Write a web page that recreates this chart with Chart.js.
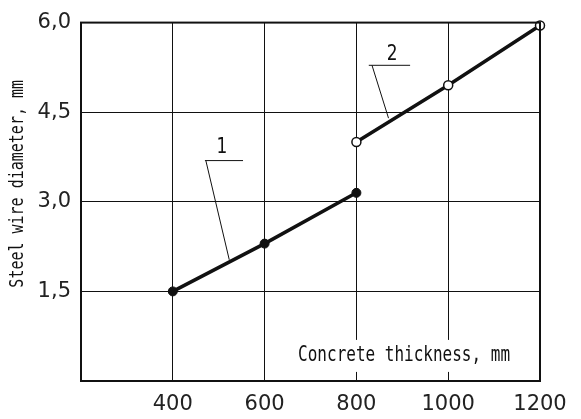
<!DOCTYPE html>
<html>
<head>
<meta charset="utf-8">
<script src="https://cdn.jsdelivr.net/npm/chart.js@4/dist/chart.umd.min.js"></script>
<style>
html,body{margin:0;padding:0;background:#fff;}
#wrap{width:581px;height:419px;position:relative;}
</style>
</head>
<body>
<div id="wrap"><canvas id="c" width="581" height="419"></canvas></div>
<script>
// Data
const thickness1 = [400, 600, 800];
const diameter1 = [1.5, 2.3, 3.15];
const thickness2 = [800, 1000, 1200];
const diameter2 = [4.0, 4.95, 5.95];
const xTickValues = [400, 600, 800, 1000, 1200];
const yTickValues = [1.5, 3.0, 4.5, 6.0];
const xTitle = 'Concrete thickness, mm';
const yTitle = 'Steel wire diameter, mm';
const curveLabels = ['1', '2'];

const ink = '#111';

const toPts = (xs, ys) => xs.map((x, i) => ({x: x, y: ys[i]}));

// annotation anchors in data units
const notes = [
  {text: curveLabels[0], tx: 507, ty: 3.91, u0: 470, u1: 553, uy: 3.69, lx0: 472, ly0: 3.69, lx1: 523, ly1: 2.03},
  {text: curveLabels[1], tx: 878, ty: 5.47, u0: 827, u1: 917, uy: 5.285, lx0: 834, ly0: 5.285, lx1: 870, ly1: 4.4}
];

const deco = {
  id: 'deco',
  beforeDatasetsDraw(chart) {
    const {ctx, chartArea: a, scales: {x, y}} = chart;
    ctx.save();
    const left = x.getPixelForValue(673);
    const cy = y.getPixelForValue(0.42);
    ctx.fillStyle = '#fff';
    ctx.fillRect(left - 3, cy - 16, a.right - left + 2, 32);
    ctx.translate(left, cy);
    ctx.scale(1, 1.3);
    ctx.font = '16px "DejaVu Sans Mono", monospace';
    ctx.fillStyle = ink;
    ctx.textBaseline = 'middle';
    ctx.textAlign = 'left';
    ctx.fillText(xTitle, 0, 0);
    ctx.restore();
  },
  afterDraw(chart) {
    const {ctx, chartArea: a, scales: {x, y}} = chart;
    ctx.save();
    ctx.strokeStyle = ink;
    ctx.lineWidth = 2;
    ctx.strokeRect(a.left, a.top, a.right - a.left, a.bottom - a.top);
    notes.forEach(n => {
      ctx.lineWidth = 1;
      ctx.beginPath();
      ctx.moveTo(x.getPixelForValue(n.u0), y.getPixelForValue(n.uy));
      ctx.lineTo(x.getPixelForValue(n.u1), y.getPixelForValue(n.uy));
      ctx.moveTo(x.getPixelForValue(n.lx0), y.getPixelForValue(n.ly0));
      ctx.lineTo(x.getPixelForValue(n.lx1), y.getPixelForValue(n.ly1));
      ctx.stroke();
      ctx.save();
      ctx.translate(x.getPixelForValue(n.tx), y.getPixelForValue(n.ty));
      ctx.scale(1, 1.25);
      ctx.font = '17px "DejaVu Sans", sans-serif';
      ctx.fillStyle = ink;
      ctx.textAlign = 'center';
      ctx.textBaseline = 'middle';
      ctx.fillText(n.text, 0, 0);
      ctx.restore();
    });
    ctx.save();
    ctx.translate(18, (a.top + a.bottom) / 2 - 18);
    ctx.rotate(-Math.PI / 2);
    ctx.scale(1, 1.3);
    ctx.font = '15px "DejaVu Sans Mono", monospace';
    ctx.fillStyle = ink;
    ctx.textAlign = 'center';
    ctx.textBaseline = 'middle';
    ctx.fillText(yTitle, 0, 0);
    ctx.restore();
    ctx.restore();
  }
};

new Chart(document.getElementById('c'), {
  type: 'line',
  data: {
    datasets: [
      {
        data: toPts(thickness1, diameter1),
        borderColor: ink, borderWidth: 3.5,
        pointRadius: 4.5, pointBackgroundColor: ink, pointBorderColor: ink, pointBorderWidth: 1,
        clip: false, tension: 0
      },
      {
        data: toPts(thickness2, diameter2),
        borderColor: ink, borderWidth: 3.5,
        pointRadius: 4.5, pointBackgroundColor: '#fff', pointBorderColor: ink, pointBorderWidth: 1.5,
        clip: false, tension: 0
      }
    ]
  },
  options: {
    responsive: false,
    animation: false,
    events: [],
    layout: {padding: {top: 20, right: 41, left: 0, bottom: 0}},
    plugins: {legend: {display: false}, tooltip: {enabled: false}},
    scales: {
      x: {
        type: 'linear', min: 200, max: 1200,
        afterBuildTicks(s) { s.ticks = [200].concat(xTickValues).map(v => ({value: v})); },
        afterFit(s) { s.height = 38; },
        grid: {color: ink, lineWidth: 1, drawTicks: false},
        border: {display: false},
        ticks: {
          padding: 11, color: '#222', maxRotation: 0, autoSkip: false,
          font: {family: '"DejaVu Sans", sans-serif', size: 21},
          callback: v => (xTickValues.includes(v) ? String(v) : '')
        }
      },
      y: {
        type: 'linear', min: 0, max: 6,
        afterBuildTicks(s) { s.ticks = [0].concat(yTickValues).map(v => ({value: v})); },
        afterFit(s) { s.width = 81; },
        grid: {color: ink, lineWidth: 1, drawTicks: false},
        border: {display: false},
        ticks: {
          padding: 10, color: '#222', autoSkip: false,
          font: {family: '"DejaVu Sans", sans-serif', size: 21},
          callback: v => (yTickValues.includes(v) ? v.toFixed(1).replace('.', ',') : '')
        }
      }
    }
  },
  plugins: [deco]
});
</script>
</body>
</html>
